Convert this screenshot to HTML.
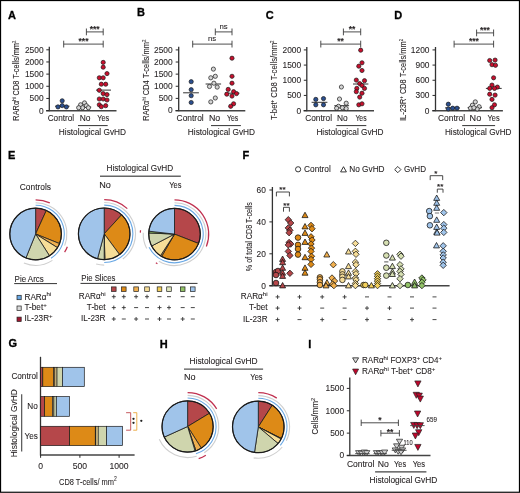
<!DOCTYPE html>
<html><head><meta charset="utf-8"><style>
html,body{margin:0;padding:0;background:#fff;}
svg{display:block;font-family:"Liberation Sans", sans-serif;will-change:transform;}
text{stroke:#231f20;stroke-width:0.08px;}
text.L{stroke:#000;stroke-width:0.3px;}
</style></head><body>
<svg width="520" height="493" viewBox="0 0 520 493">
<rect x="0.55" y="0.55" width="518.9" height="491.7" fill="#fff" stroke="#000" stroke-width="1.15"/>
<text x="7.9" y="18.9" font-size="11" text-anchor="start" font-weight="bold" fill="#000" class="L">A</text>
<line x1="49.3" y1="46.8" x2="49.3" y2="111.2" stroke="#333" stroke-width="1.3"/>
<line x1="46.099999999999994" y1="110.7" x2="116.5" y2="110.7" stroke="#444" stroke-width="1.5"/>
<line x1="46.3" y1="110.6" x2="49.3" y2="110.6" stroke="#2b2b2b" stroke-width="1.0"/>
<text x="43.6" y="113.5" font-size="8.4" text-anchor="end" font-weight="normal" fill="#231f20">0</text>
<line x1="46.3" y1="98.44" x2="49.3" y2="98.44" stroke="#2b2b2b" stroke-width="1.0"/>
<text x="43.6" y="101.34" font-size="8.4" text-anchor="end" font-weight="normal" fill="#231f20">500</text>
<line x1="46.3" y1="86.28" x2="49.3" y2="86.28" stroke="#2b2b2b" stroke-width="1.0"/>
<text x="43.6" y="89.18" font-size="8.4" text-anchor="end" font-weight="normal" fill="#231f20">1000</text>
<line x1="46.3" y1="74.11999999999999" x2="49.3" y2="74.11999999999999" stroke="#2b2b2b" stroke-width="1.0"/>
<text x="43.6" y="77.02" font-size="8.4" text-anchor="end" font-weight="normal" fill="#231f20">1500</text>
<line x1="46.3" y1="61.959999999999994" x2="49.3" y2="61.959999999999994" stroke="#2b2b2b" stroke-width="1.0"/>
<text x="43.6" y="64.86" font-size="8.4" text-anchor="end" font-weight="normal" fill="#231f20">2000</text>
<line x1="46.3" y1="49.8" x2="49.3" y2="49.8" stroke="#2b2b2b" stroke-width="1.0"/>
<text x="43.6" y="52.699999999999996" font-size="8.4" text-anchor="end" font-weight="normal" fill="#231f20">2500</text>
<text transform="translate(19.4,80.7) rotate(-90)" font-size="8.8" text-anchor="middle" font-weight="normal" fill="#231f20" textLength="80" lengthAdjust="spacingAndGlyphs">RARα<tspan font-size="5" dy="-3">hi</tspan><tspan dy="3"> CD8 T-cells/mm</tspan><tspan font-size="5" dy="-3">2</tspan></text>
<text x="47.7" y="120.7" font-size="8.2" text-anchor="start" font-weight="normal" fill="#231f20" textLength="26.5" lengthAdjust="spacingAndGlyphs">Control</text>
<text x="79.7" y="120.7" font-size="8.2" text-anchor="start" font-weight="normal" fill="#231f20" textLength="10.799999999999997" lengthAdjust="spacingAndGlyphs">No</text>
<text x="97.2" y="120.7" font-size="8.2" text-anchor="start" font-weight="normal" fill="#231f20" textLength="12.0" lengthAdjust="spacingAndGlyphs">Yes</text>
<line x1="78" y1="125.6" x2="107.7" y2="125.6" stroke="#333" stroke-width="1.0"/>
<text x="58.8" y="135" font-size="8.2" text-anchor="start" font-weight="normal" fill="#231f20" textLength="67.3" lengthAdjust="spacingAndGlyphs">Histological GvHD</text>
<line x1="86.4" y1="31.9" x2="103.2" y2="31.9" stroke="#3a3a3a" stroke-width="0.9"/>
<line x1="86.4" y1="28.5" x2="86.4" y2="35.3" stroke="#3a3a3a" stroke-width="0.9"/>
<line x1="103.2" y1="28.5" x2="103.2" y2="35.3" stroke="#3a3a3a" stroke-width="0.9"/>
<text x="94.7" y="32.1" font-size="8.5" text-anchor="middle" font-weight="bold" fill="#231f20">***</text>
<line x1="63.7" y1="44.1" x2="103.2" y2="44.1" stroke="#3a3a3a" stroke-width="0.9"/>
<line x1="63.7" y1="40.7" x2="63.7" y2="47.5" stroke="#3a3a3a" stroke-width="0.9"/>
<line x1="103.2" y1="40.7" x2="103.2" y2="47.5" stroke="#3a3a3a" stroke-width="0.9"/>
<text x="83.5" y="44.300000000000004" font-size="8.5" text-anchor="middle" font-weight="bold" fill="#231f20">***</text>
<line x1="55" y1="106.2" x2="69.5" y2="106.2" stroke="#333" stroke-width="1.0"/>
<line x1="76.8" y1="107.1" x2="91.2" y2="107.1" stroke="#333" stroke-width="1.0"/>
<line x1="96" y1="90.1" x2="111" y2="90.1" stroke="#333" stroke-width="1.0"/>
<circle cx="80.6" cy="104.8" r="2.1" fill="#d4d4d4" stroke="#1a1a1a" stroke-width="0.7"/>
<circle cx="84.5" cy="102.9" r="2.1" fill="#d4d4d4" stroke="#1a1a1a" stroke-width="0.7"/>
<circle cx="86.4" cy="105.7" r="2.1" fill="#d4d4d4" stroke="#1a1a1a" stroke-width="0.7"/>
<circle cx="82.6" cy="107.7" r="2.1" fill="#d4d4d4" stroke="#1a1a1a" stroke-width="0.7"/>
<circle cx="88.4" cy="107.7" r="2.1" fill="#d4d4d4" stroke="#1a1a1a" stroke-width="0.7"/>
<circle cx="78.7" cy="107.7" r="2.1" fill="#d4d4d4" stroke="#1a1a1a" stroke-width="0.7"/>
<circle cx="62.2" cy="100.8" r="2.1" fill="#2b4f8f" stroke="#1a1a1a" stroke-width="0.7"/>
<circle cx="62.2" cy="105.6" r="2.1" fill="#2b4f8f" stroke="#1a1a1a" stroke-width="0.7"/>
<circle cx="58.0" cy="106.9" r="2.1" fill="#2b4f8f" stroke="#1a1a1a" stroke-width="0.7"/>
<circle cx="66.4" cy="106.9" r="2.1" fill="#2b4f8f" stroke="#1a1a1a" stroke-width="0.7"/>
<circle cx="103.2" cy="62.4" r="2.1" fill="#c8102e" stroke="#1a1a1a" stroke-width="0.7"/>
<circle cx="103.2" cy="67.2" r="2.1" fill="#c8102e" stroke="#1a1a1a" stroke-width="0.7"/>
<circle cx="107.0" cy="73.6" r="2.1" fill="#c8102e" stroke="#1a1a1a" stroke-width="0.7"/>
<circle cx="99.3" cy="77.8" r="2.1" fill="#c8102e" stroke="#1a1a1a" stroke-width="0.7"/>
<circle cx="103.2" cy="77.8" r="2.1" fill="#c8102e" stroke="#1a1a1a" stroke-width="0.7"/>
<circle cx="101.3" cy="84.2" r="2.1" fill="#c8102e" stroke="#1a1a1a" stroke-width="0.7"/>
<circle cx="105.7" cy="84.2" r="2.1" fill="#c8102e" stroke="#1a1a1a" stroke-width="0.7"/>
<circle cx="99.3" cy="90.3" r="2.1" fill="#c8102e" stroke="#1a1a1a" stroke-width="0.7"/>
<circle cx="103.2" cy="93.6" r="2.1" fill="#c8102e" stroke="#1a1a1a" stroke-width="0.7"/>
<circle cx="107.0" cy="94.6" r="2.1" fill="#c8102e" stroke="#1a1a1a" stroke-width="0.7"/>
<circle cx="99.3" cy="99.0" r="2.1" fill="#c8102e" stroke="#1a1a1a" stroke-width="0.7"/>
<circle cx="103.2" cy="99.0" r="2.1" fill="#c8102e" stroke="#1a1a1a" stroke-width="0.7"/>
<circle cx="107.0" cy="100.0" r="2.1" fill="#c8102e" stroke="#1a1a1a" stroke-width="0.7"/>
<circle cx="99.3" cy="104.8" r="2.1" fill="#c8102e" stroke="#1a1a1a" stroke-width="0.7"/>
<circle cx="105.7" cy="105.7" r="2.1" fill="#c8102e" stroke="#1a1a1a" stroke-width="0.7"/>
<circle cx="101.3" cy="106.7" r="2.1" fill="#c8102e" stroke="#1a1a1a" stroke-width="0.7"/>
<text x="137.1" y="15.9" font-size="11" text-anchor="start" font-weight="bold" fill="#000" class="L">B</text>
<line x1="178.7" y1="46.8" x2="178.7" y2="111.2" stroke="#333" stroke-width="1.3"/>
<line x1="175.5" y1="110.7" x2="245.3" y2="110.7" stroke="#444" stroke-width="1.5"/>
<line x1="175.7" y1="110.5" x2="178.7" y2="110.5" stroke="#2b2b2b" stroke-width="1.0"/>
<text x="172.7" y="113.4" font-size="8.4" text-anchor="end" font-weight="normal" fill="#231f20">0</text>
<line x1="175.7" y1="98.38" x2="178.7" y2="98.38" stroke="#2b2b2b" stroke-width="1.0"/>
<text x="172.7" y="101.28" font-size="8.4" text-anchor="end" font-weight="normal" fill="#231f20">500</text>
<line x1="175.7" y1="86.26" x2="178.7" y2="86.26" stroke="#2b2b2b" stroke-width="1.0"/>
<text x="172.7" y="89.16000000000001" font-size="8.4" text-anchor="end" font-weight="normal" fill="#231f20">1000</text>
<line x1="175.7" y1="74.14" x2="178.7" y2="74.14" stroke="#2b2b2b" stroke-width="1.0"/>
<text x="172.7" y="77.04" font-size="8.4" text-anchor="end" font-weight="normal" fill="#231f20">1500</text>
<line x1="175.7" y1="62.02" x2="178.7" y2="62.02" stroke="#2b2b2b" stroke-width="1.0"/>
<text x="172.7" y="64.92" font-size="8.4" text-anchor="end" font-weight="normal" fill="#231f20">2000</text>
<line x1="175.7" y1="49.900000000000006" x2="178.7" y2="49.900000000000006" stroke="#2b2b2b" stroke-width="1.0"/>
<text x="172.7" y="52.800000000000004" font-size="8.4" text-anchor="end" font-weight="normal" fill="#231f20">2500</text>
<text transform="translate(148.5,80.25) rotate(-90)" font-size="8.8" text-anchor="middle" font-weight="normal" fill="#231f20" textLength="81" lengthAdjust="spacingAndGlyphs">RARα<tspan font-size="5" dy="-3">hi</tspan><tspan dy="3"> CD4 T-cells/mm</tspan><tspan font-size="5" dy="-3">2</tspan></text>
<text x="176.6" y="120.7" font-size="8.2" text-anchor="start" font-weight="normal" fill="#231f20" textLength="27.099999999999994" lengthAdjust="spacingAndGlyphs">Control</text>
<text x="208.9" y="120.7" font-size="8.2" text-anchor="start" font-weight="normal" fill="#231f20" textLength="11.299999999999983" lengthAdjust="spacingAndGlyphs">No</text>
<text x="227.1" y="120.7" font-size="8.2" text-anchor="start" font-weight="normal" fill="#231f20" textLength="11.200000000000017" lengthAdjust="spacingAndGlyphs">Yes</text>
<line x1="211" y1="125.6" x2="240.9" y2="125.6" stroke="#333" stroke-width="1.0"/>
<text x="187.8" y="135" font-size="8.2" text-anchor="start" font-weight="normal" fill="#231f20" textLength="67.29999999999998" lengthAdjust="spacingAndGlyphs">Histological GvHD</text>
<line x1="215.3" y1="31.9" x2="232" y2="31.9" stroke="#3a3a3a" stroke-width="0.9"/>
<line x1="215.3" y1="28.5" x2="215.3" y2="35.3" stroke="#3a3a3a" stroke-width="0.9"/>
<line x1="232" y1="28.5" x2="232" y2="35.3" stroke="#3a3a3a" stroke-width="0.9"/>
<text x="223.6" y="28.9" font-size="7.8" text-anchor="middle" font-weight="normal" fill="#231f20">ns</text>
<line x1="192.7" y1="44.1" x2="232" y2="44.1" stroke="#3a3a3a" stroke-width="0.9"/>
<line x1="192.7" y1="40.7" x2="192.7" y2="47.5" stroke="#3a3a3a" stroke-width="0.9"/>
<line x1="232" y1="40.7" x2="232" y2="47.5" stroke="#3a3a3a" stroke-width="0.9"/>
<text x="212" y="41.1" font-size="7.8" text-anchor="middle" font-weight="normal" fill="#231f20">ns</text>
<line x1="183.1" y1="92.8" x2="198.9" y2="92.8" stroke="#333" stroke-width="1.0"/>
<line x1="205.6" y1="84" x2="221.1" y2="84" stroke="#333" stroke-width="1.0"/>
<line x1="224.9" y1="93.2" x2="239.4" y2="93.2" stroke="#333" stroke-width="1.0"/>
<circle cx="191.2" cy="81.7" r="2.1" fill="#2b4f8f" stroke="#1a1a1a" stroke-width="0.7"/>
<circle cx="191.2" cy="89.7" r="2.1" fill="#2b4f8f" stroke="#1a1a1a" stroke-width="0.7"/>
<circle cx="191.2" cy="95.7" r="2.1" fill="#2b4f8f" stroke="#1a1a1a" stroke-width="0.7"/>
<circle cx="191.2" cy="102.5" r="2.1" fill="#2b4f8f" stroke="#1a1a1a" stroke-width="0.7"/>
<circle cx="213.4" cy="69.1" r="2.1" fill="#d4d4d4" stroke="#1a1a1a" stroke-width="0.7"/>
<circle cx="215.3" cy="76.3" r="2.1" fill="#d4d4d4" stroke="#1a1a1a" stroke-width="0.7"/>
<circle cx="210.8" cy="77.8" r="2.1" fill="#d4d4d4" stroke="#1a1a1a" stroke-width="0.7"/>
<circle cx="213.9" cy="83.2" r="2.1" fill="#d4d4d4" stroke="#1a1a1a" stroke-width="0.7"/>
<circle cx="209.5" cy="86.5" r="2.1" fill="#d4d4d4" stroke="#1a1a1a" stroke-width="0.7"/>
<circle cx="217.2" cy="87.1" r="2.1" fill="#d4d4d4" stroke="#1a1a1a" stroke-width="0.7"/>
<circle cx="215.3" cy="98.0" r="2.1" fill="#d4d4d4" stroke="#1a1a1a" stroke-width="0.7"/>
<circle cx="210.8" cy="101.9" r="2.1" fill="#d4d4d4" stroke="#1a1a1a" stroke-width="0.7"/>
<circle cx="232.0" cy="58.2" r="2.1" fill="#c8102e" stroke="#1a1a1a" stroke-width="0.7"/>
<circle cx="232.0" cy="76.3" r="2.1" fill="#c8102e" stroke="#1a1a1a" stroke-width="0.7"/>
<circle cx="232.0" cy="83.2" r="2.1" fill="#c8102e" stroke="#1a1a1a" stroke-width="0.7"/>
<circle cx="228.2" cy="89.4" r="2.1" fill="#c8102e" stroke="#1a1a1a" stroke-width="0.7"/>
<circle cx="233.6" cy="91.7" r="2.1" fill="#c8102e" stroke="#1a1a1a" stroke-width="0.7"/>
<circle cx="236.5" cy="93.6" r="2.1" fill="#c8102e" stroke="#1a1a1a" stroke-width="0.7"/>
<circle cx="226.8" cy="94.2" r="2.1" fill="#c8102e" stroke="#1a1a1a" stroke-width="0.7"/>
<circle cx="232.0" cy="96.1" r="2.1" fill="#c8102e" stroke="#1a1a1a" stroke-width="0.7"/>
<circle cx="233.6" cy="103.8" r="2.1" fill="#c8102e" stroke="#1a1a1a" stroke-width="0.7"/>
<circle cx="230.7" cy="106.3" r="2.1" fill="#c8102e" stroke="#1a1a1a" stroke-width="0.7"/>
<text x="265.7" y="18.5" font-size="11" text-anchor="start" font-weight="bold" fill="#000" class="L">C</text>
<line x1="306.8" y1="47" x2="306.8" y2="111.2" stroke="#333" stroke-width="1.3"/>
<line x1="303.6" y1="110.7" x2="374" y2="110.7" stroke="#444" stroke-width="1.5"/>
<line x1="303.8" y1="110.6" x2="306.8" y2="110.6" stroke="#2b2b2b" stroke-width="1.0"/>
<text x="301.2" y="113.5" font-size="8.4" text-anchor="end" font-weight="normal" fill="#231f20">0</text>
<line x1="303.8" y1="95.42999999999999" x2="306.8" y2="95.42999999999999" stroke="#2b2b2b" stroke-width="1.0"/>
<text x="301.2" y="98.33" font-size="8.4" text-anchor="end" font-weight="normal" fill="#231f20">500</text>
<line x1="303.8" y1="80.25999999999999" x2="306.8" y2="80.25999999999999" stroke="#2b2b2b" stroke-width="1.0"/>
<text x="301.2" y="83.16" font-size="8.4" text-anchor="end" font-weight="normal" fill="#231f20">1000</text>
<line x1="303.8" y1="65.09" x2="306.8" y2="65.09" stroke="#2b2b2b" stroke-width="1.0"/>
<text x="301.2" y="67.99000000000001" font-size="8.4" text-anchor="end" font-weight="normal" fill="#231f20">1500</text>
<line x1="303.8" y1="49.919999999999995" x2="306.8" y2="49.919999999999995" stroke="#2b2b2b" stroke-width="1.0"/>
<text x="301.2" y="52.81999999999999" font-size="8.4" text-anchor="end" font-weight="normal" fill="#231f20">2000</text>
<text transform="translate(276.8,80.25) rotate(-90)" font-size="8.8" text-anchor="middle" font-weight="normal" fill="#231f20" textLength="79.5" lengthAdjust="spacingAndGlyphs">T-bet<tspan font-size="5" dy="-3">+</tspan><tspan dy="3"> CD8 T-cells/mm</tspan><tspan font-size="5" dy="-3">2</tspan></text>
<text x="305.2" y="120.7" font-size="8.2" text-anchor="start" font-weight="normal" fill="#231f20" textLength="26.80000000000001" lengthAdjust="spacingAndGlyphs">Control</text>
<text x="336.9" y="120.7" font-size="8.2" text-anchor="start" font-weight="normal" fill="#231f20" textLength="10.700000000000045" lengthAdjust="spacingAndGlyphs">No</text>
<text x="355.4" y="120.7" font-size="8.2" text-anchor="start" font-weight="normal" fill="#231f20" textLength="11.200000000000045" lengthAdjust="spacingAndGlyphs">Yes</text>
<line x1="336.3" y1="125.6" x2="366.3" y2="125.6" stroke="#333" stroke-width="1.0"/>
<text x="316.4" y="135" font-size="8.2" text-anchor="start" font-weight="normal" fill="#231f20" textLength="67.20000000000005" lengthAdjust="spacingAndGlyphs">Histological GvHD</text>
<line x1="343.4" y1="31.9" x2="360.7" y2="31.9" stroke="#3a3a3a" stroke-width="0.9"/>
<line x1="343.4" y1="28.5" x2="343.4" y2="35.3" stroke="#3a3a3a" stroke-width="0.9"/>
<line x1="360.7" y1="28.5" x2="360.7" y2="35.3" stroke="#3a3a3a" stroke-width="0.9"/>
<text x="352" y="32.1" font-size="8.5" text-anchor="middle" font-weight="bold" fill="#231f20">**</text>
<line x1="320.8" y1="44.1" x2="360.7" y2="44.1" stroke="#3a3a3a" stroke-width="0.9"/>
<line x1="320.8" y1="40.7" x2="320.8" y2="47.5" stroke="#3a3a3a" stroke-width="0.9"/>
<line x1="360.7" y1="40.7" x2="360.7" y2="47.5" stroke="#3a3a3a" stroke-width="0.9"/>
<text x="340.5" y="44.300000000000004" font-size="8.5" text-anchor="middle" font-weight="bold" fill="#231f20">**</text>
<line x1="311.6" y1="102.3" x2="327.4" y2="102.3" stroke="#333" stroke-width="1.0"/>
<line x1="334.3" y1="105.7" x2="349.1" y2="105.7" stroke="#333" stroke-width="1.0"/>
<line x1="353" y1="84" x2="368.4" y2="84" stroke="#333" stroke-width="1.0"/>
<circle cx="315.8" cy="99.4" r="2.1" fill="#2b4f8f" stroke="#1a1a1a" stroke-width="0.7"/>
<circle cx="323.5" cy="98.6" r="2.1" fill="#2b4f8f" stroke="#1a1a1a" stroke-width="0.7"/>
<circle cx="315.8" cy="104.8" r="2.1" fill="#2b4f8f" stroke="#1a1a1a" stroke-width="0.7"/>
<circle cx="323.5" cy="104.8" r="2.1" fill="#2b4f8f" stroke="#1a1a1a" stroke-width="0.7"/>
<circle cx="341.4" cy="87.0" r="2.1" fill="#d4d4d4" stroke="#1a1a1a" stroke-width="0.7"/>
<circle cx="339.5" cy="99.0" r="2.1" fill="#d4d4d4" stroke="#1a1a1a" stroke-width="0.7"/>
<circle cx="346.2" cy="103.2" r="2.1" fill="#d4d4d4" stroke="#1a1a1a" stroke-width="0.7"/>
<circle cx="338.5" cy="106.3" r="2.1" fill="#d4d4d4" stroke="#1a1a1a" stroke-width="0.7"/>
<circle cx="342.4" cy="107.7" r="2.1" fill="#d4d4d4" stroke="#1a1a1a" stroke-width="0.7"/>
<circle cx="346.2" cy="108.6" r="2.1" fill="#d4d4d4" stroke="#1a1a1a" stroke-width="0.7"/>
<circle cx="336.6" cy="108.2" r="2.1" fill="#d4d4d4" stroke="#1a1a1a" stroke-width="0.7"/>
<circle cx="360.7" cy="50.2" r="2.1" fill="#c8102e" stroke="#1a1a1a" stroke-width="0.7"/>
<circle cx="362.0" cy="62.8" r="2.1" fill="#c8102e" stroke="#1a1a1a" stroke-width="0.7"/>
<circle cx="358.8" cy="66.2" r="2.1" fill="#c8102e" stroke="#1a1a1a" stroke-width="0.7"/>
<circle cx="362.0" cy="70.5" r="2.1" fill="#c8102e" stroke="#1a1a1a" stroke-width="0.7"/>
<circle cx="356.3" cy="80.1" r="2.1" fill="#c8102e" stroke="#1a1a1a" stroke-width="0.7"/>
<circle cx="364.5" cy="80.7" r="2.1" fill="#c8102e" stroke="#1a1a1a" stroke-width="0.7"/>
<circle cx="359.7" cy="83.6" r="2.1" fill="#c8102e" stroke="#1a1a1a" stroke-width="0.7"/>
<circle cx="362.0" cy="85.5" r="2.1" fill="#c8102e" stroke="#1a1a1a" stroke-width="0.7"/>
<circle cx="356.8" cy="88.4" r="2.1" fill="#c8102e" stroke="#1a1a1a" stroke-width="0.7"/>
<circle cx="364.5" cy="88.4" r="2.1" fill="#c8102e" stroke="#1a1a1a" stroke-width="0.7"/>
<circle cx="356.3" cy="91.7" r="2.1" fill="#c8102e" stroke="#1a1a1a" stroke-width="0.7"/>
<circle cx="362.0" cy="93.2" r="2.1" fill="#c8102e" stroke="#1a1a1a" stroke-width="0.7"/>
<circle cx="359.7" cy="97.1" r="2.1" fill="#c8102e" stroke="#1a1a1a" stroke-width="0.7"/>
<circle cx="358.8" cy="104.8" r="2.1" fill="#c8102e" stroke="#1a1a1a" stroke-width="0.7"/>
<circle cx="362.0" cy="103.8" r="2.1" fill="#c8102e" stroke="#1a1a1a" stroke-width="0.7"/>
<text x="394.3" y="19.2" font-size="11" text-anchor="start" font-weight="bold" fill="#000" class="L">D</text>
<line x1="435.5" y1="47" x2="435.5" y2="111.2" stroke="#333" stroke-width="1.3"/>
<line x1="432.3" y1="110.7" x2="502.9" y2="110.7" stroke="#444" stroke-width="1.5"/>
<line x1="432.5" y1="110.6" x2="435.5" y2="110.6" stroke="#2b2b2b" stroke-width="1.0"/>
<text x="429.5" y="113.5" font-size="8.4" text-anchor="end" font-weight="normal" fill="#231f20">0</text>
<line x1="432.5" y1="95.42999999999999" x2="435.5" y2="95.42999999999999" stroke="#2b2b2b" stroke-width="1.0"/>
<text x="429.5" y="98.33" font-size="8.4" text-anchor="end" font-weight="normal" fill="#231f20">300</text>
<line x1="432.5" y1="80.25999999999999" x2="435.5" y2="80.25999999999999" stroke="#2b2b2b" stroke-width="1.0"/>
<text x="429.5" y="83.16" font-size="8.4" text-anchor="end" font-weight="normal" fill="#231f20">600</text>
<line x1="432.5" y1="65.09" x2="435.5" y2="65.09" stroke="#2b2b2b" stroke-width="1.0"/>
<text x="429.5" y="67.99000000000001" font-size="8.4" text-anchor="end" font-weight="normal" fill="#231f20">900</text>
<line x1="432.5" y1="49.919999999999995" x2="435.5" y2="49.919999999999995" stroke="#2b2b2b" stroke-width="1.0"/>
<text x="429.5" y="52.81999999999999" font-size="8.4" text-anchor="end" font-weight="normal" fill="#231f20">1200</text>
<text transform="translate(405.6,80) rotate(-90)" font-size="8.8" text-anchor="middle" font-weight="normal" fill="#231f20" textLength="82" lengthAdjust="spacingAndGlyphs">IL-23R<tspan font-size="5" dy="-3">+</tspan><tspan dy="3"> CD8 T-cells/mm</tspan><tspan font-size="5" dy="-3">2</tspan></text>
<text x="438" y="120.7" font-size="8.2" text-anchor="start" font-weight="normal" fill="#231f20" textLength="27.100000000000023" lengthAdjust="spacingAndGlyphs">Control</text>
<text x="469.6" y="120.7" font-size="8.2" text-anchor="start" font-weight="normal" fill="#231f20" textLength="11.599999999999966" lengthAdjust="spacingAndGlyphs">No</text>
<text x="487.6" y="120.7" font-size="8.2" text-anchor="start" font-weight="normal" fill="#231f20" textLength="12.099999999999966" lengthAdjust="spacingAndGlyphs">Yes</text>
<line x1="462.2" y1="125.6" x2="495.1" y2="125.6" stroke="#333" stroke-width="1.0"/>
<text x="444.9" y="135" font-size="8.2" text-anchor="start" font-weight="normal" fill="#231f20" textLength="66.60000000000002" lengthAdjust="spacingAndGlyphs">Histological GvHD</text>
<line x1="476.6" y1="32.9" x2="493.6" y2="32.9" stroke="#3a3a3a" stroke-width="0.9"/>
<line x1="476.6" y1="29.5" x2="476.6" y2="36.3" stroke="#3a3a3a" stroke-width="0.9"/>
<line x1="493.6" y1="29.5" x2="493.6" y2="36.3" stroke="#3a3a3a" stroke-width="0.9"/>
<text x="484.9" y="33.1" font-size="8.5" text-anchor="middle" font-weight="bold" fill="#231f20">***</text>
<line x1="454.1" y1="44.1" x2="493.6" y2="44.1" stroke="#3a3a3a" stroke-width="0.9"/>
<line x1="454.1" y1="40.7" x2="454.1" y2="47.5" stroke="#3a3a3a" stroke-width="0.9"/>
<line x1="493.6" y1="40.7" x2="493.6" y2="47.5" stroke="#3a3a3a" stroke-width="0.9"/>
<text x="473.9" y="44.300000000000004" font-size="8.5" text-anchor="middle" font-weight="bold" fill="#231f20">***</text>
<line x1="445" y1="107.9" x2="459.9" y2="107.9" stroke="#333" stroke-width="1.0"/>
<line x1="467.6" y1="107.7" x2="482" y2="107.7" stroke="#333" stroke-width="1.0"/>
<line x1="485.9" y1="88.4" x2="501.7" y2="88.4" stroke="#333" stroke-width="1.0"/>
<circle cx="448.3" cy="104.2" r="2.1" fill="#2b4f8f" stroke="#1a1a1a" stroke-width="0.7"/>
<circle cx="448.3" cy="109.0" r="2.1" fill="#2b4f8f" stroke="#1a1a1a" stroke-width="0.7"/>
<circle cx="452.7" cy="108.2" r="2.1" fill="#2b4f8f" stroke="#1a1a1a" stroke-width="0.7"/>
<circle cx="457.0" cy="108.2" r="2.1" fill="#2b4f8f" stroke="#1a1a1a" stroke-width="0.7"/>
<circle cx="475.3" cy="101.9" r="2.1" fill="#d4d4d4" stroke="#1a1a1a" stroke-width="0.7"/>
<circle cx="472.4" cy="105.2" r="2.1" fill="#d4d4d4" stroke="#1a1a1a" stroke-width="0.7"/>
<circle cx="479.1" cy="106.7" r="2.1" fill="#d4d4d4" stroke="#1a1a1a" stroke-width="0.7"/>
<circle cx="470.5" cy="108.2" r="2.1" fill="#d4d4d4" stroke="#1a1a1a" stroke-width="0.7"/>
<circle cx="477.2" cy="109.0" r="2.1" fill="#d4d4d4" stroke="#1a1a1a" stroke-width="0.7"/>
<circle cx="473.9" cy="107.7" r="2.1" fill="#d4d4d4" stroke="#1a1a1a" stroke-width="0.7"/>
<circle cx="489.7" cy="60.5" r="2.1" fill="#c8102e" stroke="#1a1a1a" stroke-width="0.7"/>
<circle cx="495.1" cy="60.1" r="2.1" fill="#c8102e" stroke="#1a1a1a" stroke-width="0.7"/>
<circle cx="492.0" cy="64.7" r="2.1" fill="#c8102e" stroke="#1a1a1a" stroke-width="0.7"/>
<circle cx="495.5" cy="65.3" r="2.1" fill="#c8102e" stroke="#1a1a1a" stroke-width="0.7"/>
<circle cx="493.6" cy="77.8" r="2.1" fill="#c8102e" stroke="#1a1a1a" stroke-width="0.7"/>
<circle cx="492.0" cy="85.1" r="2.1" fill="#c8102e" stroke="#1a1a1a" stroke-width="0.7"/>
<circle cx="497.4" cy="87.1" r="2.1" fill="#c8102e" stroke="#1a1a1a" stroke-width="0.7"/>
<circle cx="489.7" cy="88.4" r="2.1" fill="#c8102e" stroke="#1a1a1a" stroke-width="0.7"/>
<circle cx="494.5" cy="88.4" r="2.1" fill="#c8102e" stroke="#1a1a1a" stroke-width="0.7"/>
<circle cx="495.1" cy="95.1" r="2.1" fill="#c8102e" stroke="#1a1a1a" stroke-width="0.7"/>
<circle cx="489.7" cy="94.2" r="2.1" fill="#c8102e" stroke="#1a1a1a" stroke-width="0.7"/>
<circle cx="492.0" cy="99.4" r="2.1" fill="#c8102e" stroke="#1a1a1a" stroke-width="0.7"/>
<circle cx="494.5" cy="104.8" r="2.1" fill="#c8102e" stroke="#1a1a1a" stroke-width="0.7"/>
<circle cx="492.0" cy="107.7" r="2.1" fill="#c8102e" stroke="#1a1a1a" stroke-width="0.7"/>
<text x="8.1" y="158.5" font-size="11" text-anchor="start" font-weight="bold" fill="#000" class="L">E</text>
<text x="19.8" y="189.6" font-size="8.2" text-anchor="start" font-weight="normal" fill="#231f20" textLength="31.2" lengthAdjust="spacingAndGlyphs">Controls</text>
<text x="106.5" y="171.3" font-size="8.2" text-anchor="start" font-weight="normal" fill="#231f20" textLength="66.6" lengthAdjust="spacingAndGlyphs">Histological GvHD</text>
<line x1="100" y1="176.3" x2="180.8" y2="176.3" stroke="#666" stroke-width="1.4"/>
<text x="99.2" y="188" font-size="8.2" text-anchor="start" font-weight="normal" fill="#231f20" textLength="11.6" lengthAdjust="spacingAndGlyphs">No</text>
<text x="169.2" y="188" font-size="8.2" text-anchor="start" font-weight="normal" fill="#231f20" textLength="12.3" lengthAdjust="spacingAndGlyphs">Yes</text>
<path d="M35.60,234.00 L35.60,208.20 A25.8,25.8 0 0 1 46.30,210.52 Z" fill="#b5474a" stroke="#1a1a1a" stroke-width="0.8" stroke-linejoin="round"/>
<path d="M35.60,234.00 L46.30,210.52 A25.8,25.8 0 0 1 59.55,243.58 Z" fill="#dd8a17" stroke="#1a1a1a" stroke-width="0.8" stroke-linejoin="round"/>
<path d="M35.60,234.00 L59.55,243.58 A25.8,25.8 0 0 1 57.48,247.67 Z" fill="#f0b050" stroke="#1a1a1a" stroke-width="0.8" stroke-linejoin="round"/>
<path d="M35.60,234.00 L57.48,247.67 A25.8,25.8 0 0 1 49.46,255.76 Z" fill="#f6dd98" stroke="#1a1a1a" stroke-width="0.8" stroke-linejoin="round"/>
<path d="M35.60,234.00 L49.46,255.76 A25.8,25.8 0 0 1 25.94,257.92 Z" fill="#cfd5ad" stroke="#1a1a1a" stroke-width="0.8" stroke-linejoin="round"/>
<path d="M35.60,234.00 L25.94,257.92 A25.8,25.8 0 0 1 35.60,208.20 Z" fill="#a0c4ea" stroke="#1a1a1a" stroke-width="0.8" stroke-linejoin="round"/>
<circle cx="35.6" cy="234.0" r="25.8" fill="none" stroke="#1a1a1a" stroke-width="1.2"/>
<path d="M35.60,205.30 A28.7,28.7 0 0 1 51.02,258.21" fill="none" stroke="#6aa8e4" stroke-width="1.1"/>
<path d="M35.60,202.70 A31.3,31.3 0 0 1 64.66,245.62" fill="none" stroke="#cfcfcf" stroke-width="1.1"/>
<path d="M52.42,260.40 A31.3,31.3 0 0 1 23.87,263.02" fill="none" stroke="#cfcfcf" stroke-width="1.1"/>
<path d="M35.60,199.80 A34.2,34.2 0 0 1 49.78,202.88" fill="none" stroke="#c0304f" stroke-width="1.25"/>
<path d="M67.35,246.70 A34.2,34.2 0 0 1 64.60,252.12" fill="none" stroke="#c0304f" stroke-width="1.25"/>
<path d="M104.20,233.80 L104.20,208.00 A25.8,25.8 0 0 1 121.63,214.78 Z" fill="#b5474a" stroke="#1a1a1a" stroke-width="0.8" stroke-linejoin="round"/>
<path d="M104.20,233.80 L121.63,214.78 A25.8,25.8 0 0 1 119.55,254.54 Z" fill="#dd8a17" stroke="#1a1a1a" stroke-width="0.8" stroke-linejoin="round"/>
<path d="M104.20,233.80 L119.55,254.54 A25.8,25.8 0 0 1 104.88,259.59 Z" fill="#f6dd98" stroke="#1a1a1a" stroke-width="0.8" stroke-linejoin="round"/>
<path d="M104.20,233.80 L104.88,259.59 A25.8,25.8 0 0 1 104.20,259.60 Z" fill="#f6dd98" stroke="#1a1a1a" stroke-width="0.8" stroke-linejoin="round"/>
<path d="M104.20,233.80 L104.20,259.60 A25.8,25.8 0 0 1 97.52,258.72 Z" fill="#cfd5ad" stroke="#1a1a1a" stroke-width="0.8" stroke-linejoin="round"/>
<path d="M104.20,233.80 L97.52,258.72 A25.8,25.8 0 0 1 104.20,208.00 Z" fill="#a0c4ea" stroke="#1a1a1a" stroke-width="0.8" stroke-linejoin="round"/>
<circle cx="104.2" cy="233.8" r="25.8" fill="none" stroke="#1a1a1a" stroke-width="1.2"/>
<path d="M104.20,205.10 A28.7,28.7 0 0 1 104.20,262.50" fill="none" stroke="#6aa8e4" stroke-width="1.1"/>
<path d="M104.20,202.50 A31.3,31.3 0 0 1 122.82,258.96" fill="none" stroke="#cfcfcf" stroke-width="1.1"/>
<path d="M104.20,265.10 A31.3,31.3 0 0 1 96.10,264.03" fill="none" stroke="#cfcfcf" stroke-width="1.1"/>
<path d="M104.20,199.60 A34.2,34.2 0 0 1 127.31,208.59" fill="none" stroke="#c0304f" stroke-width="1.25"/>
<path d="M174.50,234.10 L174.50,208.30 A25.8,25.8 0 0 1 198.54,243.47 Z" fill="#b5474a" stroke="#1a1a1a" stroke-width="0.8" stroke-linejoin="round"/>
<path d="M174.50,234.10 L198.54,243.47 A25.8,25.8 0 0 1 161.60,256.44 Z" fill="#dd8a17" stroke="#1a1a1a" stroke-width="0.8" stroke-linejoin="round"/>
<path d="M174.50,234.10 L161.60,256.44 A25.8,25.8 0 0 1 160.45,255.74 Z" fill="#f0b050" stroke="#1a1a1a" stroke-width="0.8" stroke-linejoin="round"/>
<path d="M174.50,234.10 L160.45,255.74 A25.8,25.8 0 0 1 151.62,246.01 Z" fill="#f6dd98" stroke="#1a1a1a" stroke-width="0.8" stroke-linejoin="round"/>
<path d="M174.50,234.10 L151.62,246.01 A25.8,25.8 0 0 1 148.72,232.97 Z" fill="#cfd5ad" stroke="#1a1a1a" stroke-width="0.8" stroke-linejoin="round"/>
<path d="M174.50,234.10 L148.72,232.97 A25.8,25.8 0 0 1 148.87,231.18 Z" fill="#92c268" stroke="#1a1a1a" stroke-width="0.8" stroke-linejoin="round"/>
<path d="M174.50,234.10 L148.87,231.18 A25.8,25.8 0 0 1 174.50,208.30 Z" fill="#a0c4ea" stroke="#1a1a1a" stroke-width="0.8" stroke-linejoin="round"/>
<circle cx="174.5" cy="234.1" r="25.8" fill="none" stroke="#1a1a1a" stroke-width="1.2"/>
<path d="M174.50,205.40 A28.7,28.7 0 1 1 149.04,247.35" fill="none" stroke="#6aa8e4" stroke-width="1.1"/>
<path d="M174.50,202.80 A31.3,31.3 0 1 1 158.85,261.21" fill="none" stroke="#cfcfcf" stroke-width="1.1"/>
<path d="M146.74,248.55 A31.3,31.3 0 0 1 143.23,232.73" fill="none" stroke="#cfcfcf" stroke-width="1.1"/>
<path d="M174.50,199.90 A34.2,34.2 0 0 1 206.36,246.52" fill="none" stroke="#c0304f" stroke-width="1.25"/>
<path d="M157.40,263.72 A34.2,34.2 0 0 1 155.87,262.78" fill="none" stroke="#c0304f" stroke-width="1.25"/>
<path d="M140.33,232.61 A34.2,34.2 0 0 1 140.52,230.23" fill="none" stroke="#c0304f" stroke-width="1.25"/>
<text x="14.6" y="281.5" font-size="8.2" text-anchor="start" font-weight="normal" fill="#231f20" textLength="29.2" lengthAdjust="spacingAndGlyphs">Pie Arcs</text>
<line x1="14.2" y1="283.6" x2="57" y2="283.6" stroke="#333" stroke-width="1.0"/>
<rect x="17" y="295.3" width="4.2" height="4.4" fill="#6aa8e4" stroke="#222" stroke-width="0.7"/>
<rect x="17" y="306.0" width="4.2" height="4.4" fill="#d8d8d8" stroke="#222" stroke-width="0.7"/>
<rect x="17" y="317.1" width="4.2" height="4.4" fill="#a01830" stroke="#222" stroke-width="0.7"/>
<text x="24.5" y="299.5" font-size="8.2" text-anchor="start" font-weight="normal" fill="#231f20">RARα<tspan font-size="6.1" dy="-3.4">hi</tspan></text>
<text x="24.5" y="310.2" font-size="8.2" text-anchor="start" font-weight="normal" fill="#231f20">T-bet<tspan font-size="6.1" dy="-3.4">+</tspan></text>
<text x="24.5" y="321.3" font-size="8.2" text-anchor="start" font-weight="normal" fill="#231f20">IL-23R<tspan font-size="6.1" dy="-3.4">+</tspan></text>
<text x="81.2" y="280.5" font-size="8.2" text-anchor="start" font-weight="normal" fill="#231f20" textLength="34.3" lengthAdjust="spacingAndGlyphs">Pie Slices</text>
<line x1="80.5" y1="283.4" x2="197.5" y2="283.4" stroke="#333" stroke-width="1.0"/>
<rect x="111.5" y="286.9" width="4.6" height="4.6" fill="#b5474a" stroke="#222" stroke-width="0.7"/>
<rect x="121.5" y="286.9" width="4.6" height="4.6" fill="#dd8a17" stroke="#222" stroke-width="0.7"/>
<rect x="133.79999999999998" y="286.9" width="4.6" height="4.6" fill="#f0b050" stroke="#222" stroke-width="0.7"/>
<rect x="144.7" y="286.9" width="4.6" height="4.6" fill="#f6dd98" stroke="#222" stroke-width="0.7"/>
<rect x="157.2" y="286.9" width="4.6" height="4.6" fill="#f2cf5a" stroke="#222" stroke-width="0.7"/>
<rect x="166.7" y="286.9" width="4.6" height="4.6" fill="#dfe6bd" stroke="#222" stroke-width="0.7"/>
<rect x="180.39999999999998" y="286.9" width="4.6" height="4.6" fill="#92c268" stroke="#222" stroke-width="0.7"/>
<rect x="190.5" y="286.9" width="4.6" height="4.6" fill="#a0c4ea" stroke="#222" stroke-width="0.7"/>
<text x="105.5" y="299.3" font-size="8.2" text-anchor="end" font-weight="normal" fill="#231f20">RARα<tspan font-size="6.1" dy="-3.4">hi</tspan></text>
<text x="105.5" y="310" font-size="8.2" text-anchor="end" font-weight="normal" fill="#231f20">T-bet</text>
<text x="105.5" y="321.2" font-size="8.2" text-anchor="end" font-weight="normal" fill="#231f20">IL-23R</text>
<line x1="111.8" y1="296.7" x2="115.8" y2="296.7" stroke="#333" stroke-width="0.9"/>
<line x1="113.8" y1="294.7" x2="113.8" y2="298.7" stroke="#333" stroke-width="0.9"/>
<line x1="121.8" y1="296.7" x2="125.8" y2="296.7" stroke="#333" stroke-width="0.9"/>
<line x1="123.8" y1="294.7" x2="123.8" y2="298.7" stroke="#333" stroke-width="0.9"/>
<line x1="134.1" y1="296.7" x2="138.1" y2="296.7" stroke="#333" stroke-width="0.9"/>
<line x1="136.1" y1="294.7" x2="136.1" y2="298.7" stroke="#333" stroke-width="0.9"/>
<line x1="145" y1="296.7" x2="149" y2="296.7" stroke="#333" stroke-width="0.9"/>
<line x1="147" y1="294.7" x2="147" y2="298.7" stroke="#333" stroke-width="0.9"/>
<line x1="157.5" y1="296.7" x2="161.5" y2="296.7" stroke="#333" stroke-width="0.9"/>
<line x1="167" y1="296.7" x2="171" y2="296.7" stroke="#333" stroke-width="0.9"/>
<line x1="180.7" y1="296.7" x2="184.7" y2="296.7" stroke="#333" stroke-width="0.9"/>
<line x1="190.8" y1="296.7" x2="194.8" y2="296.7" stroke="#333" stroke-width="0.9"/>
<line x1="111.8" y1="307.6" x2="115.8" y2="307.6" stroke="#333" stroke-width="0.9"/>
<line x1="113.8" y1="305.6" x2="113.8" y2="309.6" stroke="#333" stroke-width="0.9"/>
<line x1="121.8" y1="307.6" x2="125.8" y2="307.6" stroke="#333" stroke-width="0.9"/>
<line x1="123.8" y1="305.6" x2="123.8" y2="309.6" stroke="#333" stroke-width="0.9"/>
<line x1="134.1" y1="307.6" x2="138.1" y2="307.6" stroke="#333" stroke-width="0.9"/>
<line x1="145" y1="307.6" x2="149" y2="307.6" stroke="#333" stroke-width="0.9"/>
<line x1="157.5" y1="307.6" x2="161.5" y2="307.6" stroke="#333" stroke-width="0.9"/>
<line x1="159.5" y1="305.6" x2="159.5" y2="309.6" stroke="#333" stroke-width="0.9"/>
<line x1="167" y1="307.6" x2="171" y2="307.6" stroke="#333" stroke-width="0.9"/>
<line x1="169" y1="305.6" x2="169" y2="309.6" stroke="#333" stroke-width="0.9"/>
<line x1="180.7" y1="307.6" x2="184.7" y2="307.6" stroke="#333" stroke-width="0.9"/>
<line x1="190.8" y1="307.6" x2="194.8" y2="307.6" stroke="#333" stroke-width="0.9"/>
<line x1="111.8" y1="319" x2="115.8" y2="319" stroke="#333" stroke-width="0.9"/>
<line x1="113.8" y1="317" x2="113.8" y2="321" stroke="#333" stroke-width="0.9"/>
<line x1="121.8" y1="319" x2="125.8" y2="319" stroke="#333" stroke-width="0.9"/>
<line x1="134.1" y1="319" x2="138.1" y2="319" stroke="#333" stroke-width="0.9"/>
<line x1="136.1" y1="317" x2="136.1" y2="321" stroke="#333" stroke-width="0.9"/>
<line x1="145" y1="319" x2="149" y2="319" stroke="#333" stroke-width="0.9"/>
<line x1="157.5" y1="319" x2="161.5" y2="319" stroke="#333" stroke-width="0.9"/>
<line x1="159.5" y1="317" x2="159.5" y2="321" stroke="#333" stroke-width="0.9"/>
<line x1="167" y1="319" x2="171" y2="319" stroke="#333" stroke-width="0.9"/>
<line x1="180.7" y1="319" x2="184.7" y2="319" stroke="#333" stroke-width="0.9"/>
<line x1="182.7" y1="317" x2="182.7" y2="321" stroke="#333" stroke-width="0.9"/>
<line x1="190.8" y1="319" x2="194.8" y2="319" stroke="#333" stroke-width="0.9"/>
<text x="242.5" y="158.75" font-size="11" text-anchor="start" font-weight="bold" fill="#000" class="L">F</text>
<line x1="272.4" y1="187" x2="272.4" y2="286.2" stroke="#333" stroke-width="1.3"/>
<line x1="269.4" y1="285.7" x2="449.6" y2="285.7" stroke="#444" stroke-width="1.5"/>
<line x1="269.4" y1="285.7" x2="272.4" y2="285.7" stroke="#2b2b2b" stroke-width="1.0"/>
<text x="265.8" y="288.59999999999997" font-size="8.4" text-anchor="end" font-weight="normal" fill="#231f20">0</text>
<line x1="269.4" y1="253.79999999999998" x2="272.4" y2="253.79999999999998" stroke="#2b2b2b" stroke-width="1.0"/>
<text x="265.8" y="256.7" font-size="8.4" text-anchor="end" font-weight="normal" fill="#231f20">20</text>
<line x1="269.4" y1="221.89999999999998" x2="272.4" y2="221.89999999999998" stroke="#2b2b2b" stroke-width="1.0"/>
<text x="265.8" y="224.79999999999998" font-size="8.4" text-anchor="end" font-weight="normal" fill="#231f20">40</text>
<line x1="269.4" y1="190.0" x2="272.4" y2="190.0" stroke="#2b2b2b" stroke-width="1.0"/>
<text x="265.8" y="192.9" font-size="8.4" text-anchor="end" font-weight="normal" fill="#231f20">60</text>
<text transform="translate(252,236.7) rotate(-90)" font-size="9" text-anchor="middle" font-weight="normal" fill="#231f20" textLength="69" lengthAdjust="spacingAndGlyphs">% of total CD8 T-cells</text>
<circle cx="298.1" cy="169.3" r="2.6" fill="#fff" stroke="#222" stroke-width="0.9"/>
<text x="304" y="172.2" font-size="8.6" text-anchor="start" font-weight="normal" fill="#231f20" textLength="26.8" lengthAdjust="spacingAndGlyphs">Control</text>
<polygon points="340.60,171.91 346.40,171.91 343.50,166.69" fill="#fff" stroke="#222" stroke-width="0.9" stroke-linejoin="miter"/>
<text x="349.2" y="172.2" font-size="8.6" text-anchor="start" font-weight="normal" fill="#231f20" textLength="35.4" lengthAdjust="spacingAndGlyphs">No GvHD</text>
<polygon points="397.80,166.50 400.90,169.60 397.80,172.70 394.70,169.60" fill="#fff" stroke="#222" stroke-width="0.9"/>
<text x="404" y="172.2" font-size="8.6" text-anchor="start" font-weight="normal" fill="#231f20" textLength="22" lengthAdjust="spacingAndGlyphs">GvHD</text>
<text x="267.6" y="299.4" font-size="8.2" text-anchor="end" font-weight="normal" fill="#231f20">RARα<tspan font-size="6.1" dy="-3.4">hi</tspan></text>
<text x="267.6" y="310.4" font-size="8.2" text-anchor="end" font-weight="normal" fill="#231f20">T-bet</text>
<text x="267.6" y="321.5" font-size="8.2" text-anchor="end" font-weight="normal" fill="#231f20">IL-23R</text>
<line x1="275.6" y1="296.9" x2="279.6" y2="296.9" stroke="#333" stroke-width="0.9"/>
<line x1="277.6" y1="294.9" x2="277.6" y2="298.9" stroke="#333" stroke-width="0.9"/>
<line x1="297.5" y1="296.9" x2="301.5" y2="296.9" stroke="#333" stroke-width="0.9"/>
<line x1="299.5" y1="294.9" x2="299.5" y2="298.9" stroke="#333" stroke-width="0.9"/>
<line x1="320.2" y1="296.9" x2="324.2" y2="296.9" stroke="#333" stroke-width="0.9"/>
<line x1="322.2" y1="294.9" x2="322.2" y2="298.9" stroke="#333" stroke-width="0.9"/>
<line x1="342.6" y1="296.9" x2="346.6" y2="296.9" stroke="#333" stroke-width="0.9"/>
<line x1="344.6" y1="294.9" x2="344.6" y2="298.9" stroke="#333" stroke-width="0.9"/>
<line x1="365" y1="296.9" x2="369" y2="296.9" stroke="#333" stroke-width="0.9"/>
<line x1="387.5" y1="296.9" x2="391.5" y2="296.9" stroke="#333" stroke-width="0.9"/>
<line x1="410" y1="296.9" x2="414" y2="296.9" stroke="#333" stroke-width="0.9"/>
<line x1="432.5" y1="296.9" x2="436.5" y2="296.9" stroke="#333" stroke-width="0.9"/>
<line x1="275.6" y1="308.1" x2="279.6" y2="308.1" stroke="#333" stroke-width="0.9"/>
<line x1="277.6" y1="306.1" x2="277.6" y2="310.1" stroke="#333" stroke-width="0.9"/>
<line x1="297.5" y1="308.1" x2="301.5" y2="308.1" stroke="#333" stroke-width="0.9"/>
<line x1="299.5" y1="306.1" x2="299.5" y2="310.1" stroke="#333" stroke-width="0.9"/>
<line x1="320.2" y1="308.1" x2="324.2" y2="308.1" stroke="#333" stroke-width="0.9"/>
<line x1="342.6" y1="308.1" x2="346.6" y2="308.1" stroke="#333" stroke-width="0.9"/>
<line x1="365" y1="308.1" x2="369" y2="308.1" stroke="#333" stroke-width="0.9"/>
<line x1="367" y1="306.1" x2="367" y2="310.1" stroke="#333" stroke-width="0.9"/>
<line x1="387.5" y1="308.1" x2="391.5" y2="308.1" stroke="#333" stroke-width="0.9"/>
<line x1="389.5" y1="306.1" x2="389.5" y2="310.1" stroke="#333" stroke-width="0.9"/>
<line x1="410" y1="308.1" x2="414" y2="308.1" stroke="#333" stroke-width="0.9"/>
<line x1="432.5" y1="308.1" x2="436.5" y2="308.1" stroke="#333" stroke-width="0.9"/>
<line x1="275.6" y1="319.6" x2="279.6" y2="319.6" stroke="#333" stroke-width="0.9"/>
<line x1="277.6" y1="317.6" x2="277.6" y2="321.6" stroke="#333" stroke-width="0.9"/>
<line x1="297.5" y1="319.6" x2="301.5" y2="319.6" stroke="#333" stroke-width="0.9"/>
<line x1="320.2" y1="319.6" x2="324.2" y2="319.6" stroke="#333" stroke-width="0.9"/>
<line x1="322.2" y1="317.6" x2="322.2" y2="321.6" stroke="#333" stroke-width="0.9"/>
<line x1="342.6" y1="319.6" x2="346.6" y2="319.6" stroke="#333" stroke-width="0.9"/>
<line x1="365" y1="319.6" x2="369" y2="319.6" stroke="#333" stroke-width="0.9"/>
<line x1="367" y1="317.6" x2="367" y2="321.6" stroke="#333" stroke-width="0.9"/>
<line x1="387.5" y1="319.6" x2="391.5" y2="319.6" stroke="#333" stroke-width="0.9"/>
<line x1="410" y1="319.6" x2="414" y2="319.6" stroke="#333" stroke-width="0.9"/>
<line x1="412" y1="317.6" x2="412" y2="321.6" stroke="#333" stroke-width="0.9"/>
<line x1="432.5" y1="319.6" x2="436.5" y2="319.6" stroke="#333" stroke-width="0.9"/>
<path d="M276.4,196.4 V192 H289.4 V196.4" fill="none" stroke="#333" stroke-width="0.9"/>
<text x="282.4" y="192.2" font-size="8" text-anchor="middle" font-weight="bold" fill="#231f20">**</text>
<path d="M283.5,211.70000000000002 V207.3 H289.4 V211.70000000000002" fill="none" stroke="#333" stroke-width="0.9"/>
<text x="286.4" y="207.8" font-size="8" text-anchor="middle" font-weight="bold" fill="#231f20">**</text>
<path d="M430.2,180.1 V175.7 H442.7 V180.1" fill="none" stroke="#333" stroke-width="0.9"/>
<text x="435.9" y="175.8" font-size="8" text-anchor="middle" font-weight="bold" fill="#231f20">*</text>
<path d="M437.3,192.7 V189.1 H443 V192.7" fill="none" stroke="#333" stroke-width="0.9"/>
<text x="440.2" y="188.6" font-size="8" text-anchor="middle" font-weight="bold" fill="#231f20">**</text>
<circle cx="276.0" cy="272.0" r="2.8" fill="#b5474a" stroke="#111" stroke-width="0.75"/>
<circle cx="278.0" cy="271.0" r="2.8" fill="#b5474a" stroke="#111" stroke-width="0.75"/>
<circle cx="276.0" cy="275.0" r="2.8" fill="#b5474a" stroke="#111" stroke-width="0.75"/>
<circle cx="276.0" cy="283.0" r="2.8" fill="#b5474a" stroke="#111" stroke-width="0.75"/>
<polygon points="279.60,261.40 285.60,261.40 282.60,256.00" fill="#b5474a" stroke="#111" stroke-width="0.75" stroke-linejoin="miter"/>
<polygon points="279.60,264.70 285.60,264.70 282.60,259.30" fill="#b5474a" stroke="#111" stroke-width="0.75" stroke-linejoin="miter"/>
<polygon points="279.60,270.30 285.60,270.30 282.60,264.90" fill="#b5474a" stroke="#111" stroke-width="0.75" stroke-linejoin="miter"/>
<polygon points="279.60,275.20 285.60,275.20 282.60,269.80" fill="#b5474a" stroke="#111" stroke-width="0.75" stroke-linejoin="miter"/>
<polygon points="279.60,278.40 285.60,278.40 282.60,273.00" fill="#b5474a" stroke="#111" stroke-width="0.75" stroke-linejoin="miter"/>
<polygon points="279.60,287.90 285.60,287.90 282.60,282.50" fill="#b5474a" stroke="#111" stroke-width="0.75" stroke-linejoin="miter"/>
<polygon points="288.30,216.50 291.50,219.70 288.30,222.90 285.10,219.70" fill="#b5474a" stroke="#111" stroke-width="0.75"/>
<polygon points="290.70,219.80 293.90,223.00 290.70,226.20 287.50,223.00" fill="#b5474a" stroke="#111" stroke-width="0.75"/>
<polygon points="288.30,224.70 291.50,227.90 288.30,231.10 285.10,227.90" fill="#b5474a" stroke="#111" stroke-width="0.75"/>
<polygon points="289.90,227.10 293.10,230.30 289.90,233.50 286.70,230.30" fill="#b5474a" stroke="#111" stroke-width="0.75"/>
<polygon points="289.10,229.50 292.30,232.70 289.10,235.90 285.90,232.70" fill="#b5474a" stroke="#111" stroke-width="0.75"/>
<polygon points="289.10,239.30 292.30,242.50 289.10,245.70 285.90,242.50" fill="#b5474a" stroke="#111" stroke-width="0.75"/>
<polygon points="290.70,240.80 293.90,244.00 290.70,247.20 287.50,244.00" fill="#b5474a" stroke="#111" stroke-width="0.75"/>
<polygon points="288.30,241.70 291.50,244.90 288.30,248.10 285.10,244.90" fill="#b5474a" stroke="#111" stroke-width="0.75"/>
<polygon points="288.30,248.20 291.50,251.40 288.30,254.60 285.10,251.40" fill="#b5474a" stroke="#111" stroke-width="0.75"/>
<polygon points="289.90,252.30 293.10,255.50 289.90,258.70 286.70,255.50" fill="#b5474a" stroke="#111" stroke-width="0.75"/>
<polygon points="289.90,270.10 293.10,273.30 289.90,276.50 286.70,273.30" fill="#b5474a" stroke="#111" stroke-width="0.75"/>
<circle cx="298.0" cy="237.6" r="2.8" fill="#dd8a17" stroke="#111" stroke-width="0.75"/>
<circle cx="298.0" cy="244.9" r="2.8" fill="#dd8a17" stroke="#111" stroke-width="0.75"/>
<circle cx="298.0" cy="249.0" r="2.8" fill="#dd8a17" stroke="#111" stroke-width="0.75"/>
<circle cx="298.0" cy="254.6" r="2.8" fill="#dd8a17" stroke="#111" stroke-width="0.75"/>
<polygon points="302.00,217.60 308.00,217.60 305.00,212.20" fill="#dd8a17" stroke="#111" stroke-width="0.75" stroke-linejoin="miter"/>
<polygon points="302.00,228.90 308.00,228.90 305.00,223.50" fill="#dd8a17" stroke="#111" stroke-width="0.75" stroke-linejoin="miter"/>
<polygon points="302.00,235.40 308.00,235.40 305.00,230.00" fill="#dd8a17" stroke="#111" stroke-width="0.75" stroke-linejoin="miter"/>
<polygon points="302.00,244.40 308.00,244.40 305.00,239.00" fill="#dd8a17" stroke="#111" stroke-width="0.75" stroke-linejoin="miter"/>
<polygon points="302.00,259.70 308.00,259.70 305.00,254.30" fill="#dd8a17" stroke="#111" stroke-width="0.75" stroke-linejoin="miter"/>
<polygon points="302.00,270.30 308.00,270.30 305.00,264.90" fill="#dd8a17" stroke="#111" stroke-width="0.75" stroke-linejoin="miter"/>
<polygon points="302.00,275.20 308.00,275.20 305.00,269.80" fill="#dd8a17" stroke="#111" stroke-width="0.75" stroke-linejoin="miter"/>
<polygon points="311.00,222.20 314.20,225.40 311.00,228.60 307.80,225.40" fill="#dd8a17" stroke="#111" stroke-width="0.75"/>
<polygon points="312.00,225.50 315.20,228.70 312.00,231.90 308.80,228.70" fill="#dd8a17" stroke="#111" stroke-width="0.75"/>
<polygon points="311.00,233.60 314.20,236.80 311.00,240.00 307.80,236.80" fill="#dd8a17" stroke="#111" stroke-width="0.75"/>
<polygon points="312.00,236.80 315.20,240.00 312.00,243.20 308.80,240.00" fill="#dd8a17" stroke="#111" stroke-width="0.75"/>
<polygon points="311.00,240.80 314.20,244.00 311.00,247.20 307.80,244.00" fill="#dd8a17" stroke="#111" stroke-width="0.75"/>
<polygon points="311.50,244.90 314.70,248.10 311.50,251.30 308.30,248.10" fill="#dd8a17" stroke="#111" stroke-width="0.75"/>
<polygon points="311.00,248.20 314.20,251.40 311.00,254.60 307.80,251.40" fill="#dd8a17" stroke="#111" stroke-width="0.75"/>
<polygon points="311.50,253.10 314.70,256.30 311.50,259.50 308.30,256.30" fill="#dd8a17" stroke="#111" stroke-width="0.75"/>
<polygon points="311.00,256.30 314.20,259.50 311.00,262.70 307.80,259.50" fill="#dd8a17" stroke="#111" stroke-width="0.75"/>
<polygon points="311.00,261.20 314.20,264.40 311.00,267.60 307.80,264.40" fill="#dd8a17" stroke="#111" stroke-width="0.75"/>
<circle cx="319.9" cy="277.4" r="2.8" fill="#f2b04e" stroke="#111" stroke-width="0.75"/>
<circle cx="319.9" cy="279.3" r="2.8" fill="#f2b04e" stroke="#111" stroke-width="0.75"/>
<circle cx="319.9" cy="282.3" r="2.8" fill="#f2b04e" stroke="#111" stroke-width="0.75"/>
<circle cx="319.9" cy="285.0" r="2.8" fill="#f2b04e" stroke="#111" stroke-width="0.75"/>
<polygon points="323.80,257.00 329.80,257.00 326.80,251.60" fill="#f2b04e" stroke="#111" stroke-width="0.75" stroke-linejoin="miter"/>
<polygon points="324.00,285.00 330.00,285.00 327.00,279.60" fill="#f2b04e" stroke="#111" stroke-width="0.75" stroke-linejoin="miter"/>
<polygon points="323.00,287.90 329.00,287.90 326.00,282.50" fill="#f2b04e" stroke="#111" stroke-width="0.75" stroke-linejoin="miter"/>
<polygon points="333.30,261.50 336.50,264.70 333.30,267.90 330.10,264.70" fill="#f2b04e" stroke="#111" stroke-width="0.75"/>
<polygon points="332.00,274.80 335.20,278.00 332.00,281.20 328.80,278.00" fill="#f2b04e" stroke="#111" stroke-width="0.75"/>
<polygon points="334.50,277.80 337.70,281.00 334.50,284.20 331.30,281.00" fill="#f2b04e" stroke="#111" stroke-width="0.75"/>
<polygon points="332.70,280.90 335.90,284.10 332.70,287.30 329.50,284.10" fill="#f2b04e" stroke="#111" stroke-width="0.75"/>
<polygon points="333.90,282.40 337.10,285.60 333.90,288.80 330.70,285.60" fill="#f2b04e" stroke="#111" stroke-width="0.75"/>
<circle cx="342.4" cy="271.4" r="2.8" fill="#f6dd98" stroke="#111" stroke-width="0.75"/>
<circle cx="342.4" cy="274.4" r="2.8" fill="#f6dd98" stroke="#111" stroke-width="0.75"/>
<circle cx="342.4" cy="276.8" r="2.8" fill="#f6dd98" stroke="#111" stroke-width="0.75"/>
<circle cx="342.4" cy="279.9" r="2.8" fill="#f6dd98" stroke="#111" stroke-width="0.75"/>
<polygon points="345.50,254.00 351.50,254.00 348.50,248.60" fill="#f6dd98" stroke="#111" stroke-width="0.75" stroke-linejoin="miter"/>
<polygon points="345.50,268.60 351.50,268.60 348.50,263.20" fill="#f6dd98" stroke="#111" stroke-width="0.75" stroke-linejoin="miter"/>
<polygon points="345.50,275.30 351.50,275.30 348.50,269.90" fill="#f6dd98" stroke="#111" stroke-width="0.75" stroke-linejoin="miter"/>
<polygon points="345.50,278.90 351.50,278.90 348.50,273.50" fill="#f6dd98" stroke="#111" stroke-width="0.75" stroke-linejoin="miter"/>
<polygon points="345.50,287.90 351.50,287.90 348.50,282.50" fill="#f6dd98" stroke="#111" stroke-width="0.75" stroke-linejoin="miter"/>
<polygon points="355.40,240.20 358.60,243.40 355.40,246.60 352.20,243.40" fill="#f6dd98" stroke="#111" stroke-width="0.75"/>
<polygon points="355.40,248.10 358.60,251.30 355.40,254.50 352.20,251.30" fill="#f6dd98" stroke="#111" stroke-width="0.75"/>
<polygon points="356.00,251.10 359.20,254.30 356.00,257.50 352.80,254.30" fill="#f6dd98" stroke="#111" stroke-width="0.75"/>
<polygon points="355.40,259.00 358.60,262.20 355.40,265.40 352.20,262.20" fill="#f6dd98" stroke="#111" stroke-width="0.75"/>
<polygon points="356.00,261.50 359.20,264.70 356.00,267.90 352.80,264.70" fill="#f6dd98" stroke="#111" stroke-width="0.75"/>
<polygon points="355.40,268.20 358.60,271.40 355.40,274.60 352.20,271.40" fill="#f6dd98" stroke="#111" stroke-width="0.75"/>
<polygon points="356.00,270.60 359.20,273.80 356.00,277.00 352.80,273.80" fill="#f6dd98" stroke="#111" stroke-width="0.75"/>
<polygon points="355.40,274.80 358.60,278.00 355.40,281.20 352.20,278.00" fill="#f6dd98" stroke="#111" stroke-width="0.75"/>
<polygon points="356.00,276.70 359.20,279.90 356.00,283.10 352.80,279.90" fill="#f6dd98" stroke="#111" stroke-width="0.75"/>
<polygon points="355.40,280.30 358.60,283.50 355.40,286.70 352.20,283.50" fill="#f6dd98" stroke="#111" stroke-width="0.75"/>
<polygon points="355.40,282.40 358.60,285.60 355.40,288.80 352.20,285.60" fill="#f6dd98" stroke="#111" stroke-width="0.75"/>
<circle cx="363.5" cy="285.0" r="2.8" fill="#f2cf5a" stroke="#111" stroke-width="0.75"/>
<circle cx="365.3" cy="285.0" r="2.8" fill="#f2cf5a" stroke="#111" stroke-width="0.75"/>
<polygon points="368.40,287.90 374.40,287.90 371.40,282.50" fill="#f2cf5a" stroke="#111" stroke-width="0.75" stroke-linejoin="miter"/>
<polygon points="377.50,270.60 380.70,273.80 377.50,277.00 374.30,273.80" fill="#f2cf5a" stroke="#111" stroke-width="0.75"/>
<polygon points="377.50,273.00 380.70,276.20 377.50,279.40 374.30,276.20" fill="#f2cf5a" stroke="#111" stroke-width="0.75"/>
<polygon points="377.50,275.50 380.70,278.70 377.50,281.90 374.30,278.70" fill="#f2cf5a" stroke="#111" stroke-width="0.75"/>
<polygon points="377.50,277.90 380.70,281.10 377.50,284.30 374.30,281.10" fill="#f2cf5a" stroke="#111" stroke-width="0.75"/>
<polygon points="377.50,280.30 380.70,283.50 377.50,286.70 374.30,283.50" fill="#f2cf5a" stroke="#111" stroke-width="0.75"/>
<polygon points="377.50,282.40 380.70,285.60 377.50,288.80 374.30,285.60" fill="#f2cf5a" stroke="#111" stroke-width="0.75"/>
<circle cx="386.3" cy="242.8" r="2.8" fill="#d6dfb2" stroke="#111" stroke-width="0.75"/>
<circle cx="386.3" cy="255.5" r="2.8" fill="#d6dfb2" stroke="#111" stroke-width="0.75"/>
<circle cx="386.3" cy="267.7" r="2.8" fill="#d6dfb2" stroke="#111" stroke-width="0.75"/>
<circle cx="386.3" cy="275.6" r="2.8" fill="#d6dfb2" stroke="#111" stroke-width="0.75"/>
<polygon points="389.40,260.10 395.40,260.10 392.40,254.70" fill="#d6dfb2" stroke="#111" stroke-width="0.75" stroke-linejoin="miter"/>
<polygon points="389.40,268.60 395.40,268.60 392.40,263.20" fill="#d6dfb2" stroke="#111" stroke-width="0.75" stroke-linejoin="miter"/>
<polygon points="389.40,274.10 395.40,274.10 392.40,268.70" fill="#d6dfb2" stroke="#111" stroke-width="0.75" stroke-linejoin="miter"/>
<polygon points="389.40,276.50 395.40,276.50 392.40,271.10" fill="#d6dfb2" stroke="#111" stroke-width="0.75" stroke-linejoin="miter"/>
<polygon points="389.40,287.90 395.40,287.90 392.40,282.50" fill="#d6dfb2" stroke="#111" stroke-width="0.75" stroke-linejoin="miter"/>
<polygon points="400.00,251.10 403.20,254.30 400.00,257.50 396.80,254.30" fill="#d6dfb2" stroke="#111" stroke-width="0.75"/>
<polygon points="401.00,253.00 404.20,256.20 401.00,259.40 397.80,256.20" fill="#d6dfb2" stroke="#111" stroke-width="0.75"/>
<polygon points="400.00,261.50 403.20,264.70 400.00,267.90 396.80,264.70" fill="#d6dfb2" stroke="#111" stroke-width="0.75"/>
<polygon points="401.00,265.70 404.20,268.90 401.00,272.10 397.80,268.90" fill="#d6dfb2" stroke="#111" stroke-width="0.75"/>
<polygon points="400.00,268.20 403.20,271.40 400.00,274.60 396.80,271.40" fill="#d6dfb2" stroke="#111" stroke-width="0.75"/>
<polygon points="401.00,271.20 404.20,274.40 401.00,277.60 397.80,274.40" fill="#d6dfb2" stroke="#111" stroke-width="0.75"/>
<polygon points="400.00,275.50 403.20,278.70 400.00,281.90 396.80,278.70" fill="#d6dfb2" stroke="#111" stroke-width="0.75"/>
<polygon points="400.00,282.40 403.20,285.60 400.00,288.80 396.80,285.60" fill="#d6dfb2" stroke="#111" stroke-width="0.75"/>
<circle cx="407.9" cy="285.0" r="2.8" fill="#92c268" stroke="#111" stroke-width="0.75"/>
<polygon points="411.60,284.40 417.60,284.40 414.60,279.00" fill="#92c268" stroke="#111" stroke-width="0.75" stroke-linejoin="miter"/>
<polygon points="411.60,287.90 417.60,287.90 414.60,282.50" fill="#92c268" stroke="#111" stroke-width="0.75" stroke-linejoin="miter"/>
<polygon points="421.90,274.80 425.10,278.00 421.90,281.20 418.70,278.00" fill="#92c268" stroke="#111" stroke-width="0.75"/>
<polygon points="423.00,276.70 426.20,279.90 423.00,283.10 419.80,279.90" fill="#92c268" stroke="#111" stroke-width="0.75"/>
<polygon points="421.90,279.10 425.10,282.30 421.90,285.50 418.70,282.30" fill="#92c268" stroke="#111" stroke-width="0.75"/>
<polygon points="421.90,282.40 425.10,285.60 421.90,288.80 418.70,285.60" fill="#92c268" stroke="#111" stroke-width="0.75"/>
<circle cx="429.2" cy="211.1" r="2.8" fill="#a0c4ea" stroke="#111" stroke-width="0.75"/>
<circle cx="429.9" cy="216.1" r="2.8" fill="#a0c4ea" stroke="#111" stroke-width="0.75"/>
<circle cx="429.9" cy="225.3" r="2.8" fill="#a0c4ea" stroke="#111" stroke-width="0.75"/>
<polygon points="433.70,200.40 439.70,200.40 436.70,195.00" fill="#a0c4ea" stroke="#111" stroke-width="0.75" stroke-linejoin="miter"/>
<polygon points="433.70,205.30 439.70,205.30 436.70,199.90" fill="#a0c4ea" stroke="#111" stroke-width="0.75" stroke-linejoin="miter"/>
<polygon points="433.70,210.30 439.70,210.30 436.70,204.90" fill="#a0c4ea" stroke="#111" stroke-width="0.75" stroke-linejoin="miter"/>
<polygon points="433.70,222.30 439.70,222.30 436.70,216.90" fill="#a0c4ea" stroke="#111" stroke-width="0.75" stroke-linejoin="miter"/>
<polygon points="433.70,229.40 439.70,229.40 436.70,224.00" fill="#a0c4ea" stroke="#111" stroke-width="0.75" stroke-linejoin="miter"/>
<polygon points="433.70,234.40 439.70,234.40 436.70,229.00" fill="#a0c4ea" stroke="#111" stroke-width="0.75" stroke-linejoin="miter"/>
<polygon points="434.10,235.10 440.10,235.10 437.10,229.70" fill="#a0c4ea" stroke="#111" stroke-width="0.75" stroke-linejoin="miter"/>
<polygon points="433.50,247.90 439.50,247.90 436.50,242.50" fill="#a0c4ea" stroke="#111" stroke-width="0.75" stroke-linejoin="miter"/>
<polygon points="443.80,209.40 447.00,212.60 443.80,215.80 440.60,212.60" fill="#a0c4ea" stroke="#111" stroke-width="0.75"/>
<polygon points="443.80,221.40 447.00,224.60 443.80,227.80 440.60,224.60" fill="#a0c4ea" stroke="#111" stroke-width="0.75"/>
<polygon points="443.80,225.00 447.00,228.20 443.80,231.40 440.60,228.20" fill="#a0c4ea" stroke="#111" stroke-width="0.75"/>
<polygon points="443.80,229.20 447.00,232.40 443.80,235.60 440.60,232.40" fill="#a0c4ea" stroke="#111" stroke-width="0.75"/>
<polygon points="443.20,242.60 446.40,245.80 443.20,249.00 440.00,245.80" fill="#a0c4ea" stroke="#111" stroke-width="0.75"/>
<polygon points="443.20,248.10 446.40,251.30 443.20,254.50 440.00,251.30" fill="#a0c4ea" stroke="#111" stroke-width="0.75"/>
<polygon points="443.20,251.70 446.40,254.90 443.20,258.10 440.00,254.90" fill="#a0c4ea" stroke="#111" stroke-width="0.75"/>
<polygon points="443.20,254.80 446.40,258.00 443.20,261.20 440.00,258.00" fill="#a0c4ea" stroke="#111" stroke-width="0.75"/>
<polygon points="443.20,259.00 446.40,262.20 443.20,265.40 440.00,262.20" fill="#a0c4ea" stroke="#111" stroke-width="0.75"/>
<polygon points="443.20,262.10 446.40,265.30 443.20,268.50 440.00,265.30" fill="#a0c4ea" stroke="#111" stroke-width="0.75"/>
<line x1="384.2" y1="261.9" x2="388.4" y2="261.9" stroke="#555" stroke-width="1.0"/>
<line x1="434.9" y1="213" x2="439.1" y2="213" stroke="#777" stroke-width="1.0"/>
<text x="8.5" y="347" font-size="11" text-anchor="start" font-weight="bold" fill="#000" class="L">G</text>
<line x1="40.5" y1="356.8" x2="40.5" y2="455.6" stroke="#333" stroke-width="1.3"/>
<line x1="40.5" y1="455" x2="134.6" y2="455" stroke="#444" stroke-width="1.5"/>
<line x1="40.6" y1="455" x2="40.6" y2="457.8" stroke="#2b2b2b" stroke-width="1.0"/>
<text x="40.6" y="468.6" font-size="8.6" text-anchor="middle" font-weight="normal" fill="#231f20">0</text>
<line x1="79.9" y1="455" x2="79.9" y2="457.8" stroke="#2b2b2b" stroke-width="1.0"/>
<text x="79.9" y="468.6" font-size="8.6" text-anchor="middle" font-weight="normal" fill="#231f20">500</text>
<line x1="119.1" y1="455" x2="119.1" y2="457.8" stroke="#2b2b2b" stroke-width="1.0"/>
<text x="119.1" y="468.6" font-size="8.6" text-anchor="middle" font-weight="normal" fill="#231f20">1000</text>
<text x="59" y="485.2" font-size="9.8" text-anchor="start" font-weight="normal" fill="#231f20" textLength="57.7" lengthAdjust="spacingAndGlyphs">CD8 T-cells/ mm<tspan font-size="6.5" dy="-3.8">2</tspan></text>
<rect x="40.70" y="367.3" width="2.10" height="19.30000000000001" fill="#b5474a" stroke="#1a1a1a" stroke-width="0.7"/>
<rect x="42.80" y="367.3" width="10.60" height="19.30000000000001" fill="#dd8a17" stroke="#1a1a1a" stroke-width="0.7"/>
<rect x="53.40" y="367.3" width="1.50" height="19.30000000000001" fill="#f0b050" stroke="#1a1a1a" stroke-width="0.7"/>
<rect x="54.90" y="367.3" width="2.10" height="19.30000000000001" fill="#f6dd98" stroke="#1a1a1a" stroke-width="0.7"/>
<rect x="57.00" y="367.3" width="5.40" height="19.30000000000001" fill="#cfd5ad" stroke="#1a1a1a" stroke-width="0.7"/>
<rect x="62.40" y="367.3" width="21.90" height="19.30000000000001" fill="#a0c4ea" stroke="#1a1a1a" stroke-width="0.7"/>
<rect x="40.70" y="396.6" width="3.90" height="19.69999999999999" fill="#b5474a" stroke="#1a1a1a" stroke-width="0.7"/>
<rect x="44.60" y="396.6" width="7.80" height="19.69999999999999" fill="#dd8a17" stroke="#1a1a1a" stroke-width="0.7"/>
<rect x="52.40" y="396.6" width="1.50" height="19.69999999999999" fill="#f6dd98" stroke="#1a1a1a" stroke-width="0.7"/>
<rect x="53.90" y="396.6" width="2.40" height="19.69999999999999" fill="#cfd5ad" stroke="#1a1a1a" stroke-width="0.7"/>
<rect x="56.30" y="396.6" width="13.20" height="19.69999999999999" fill="#a0c4ea" stroke="#1a1a1a" stroke-width="0.7"/>
<rect x="40.70" y="426.3" width="28.90" height="19.30000000000001" fill="#b5474a" stroke="#1a1a1a" stroke-width="0.7"/>
<rect x="69.60" y="426.3" width="25.70" height="19.30000000000001" fill="#dd8a17" stroke="#1a1a1a" stroke-width="0.7"/>
<rect x="95.30" y="426.3" width="0.60" height="19.30000000000001" fill="#f0b050" stroke="#1a1a1a" stroke-width="0.7"/>
<rect x="95.90" y="426.3" width="2.30" height="19.30000000000001" fill="#f6dd98" stroke="#1a1a1a" stroke-width="0.7"/>
<rect x="98.20" y="426.3" width="8.30" height="19.30000000000001" fill="#cfd5ad" stroke="#1a1a1a" stroke-width="0.7"/>
<rect x="106.50" y="426.3" width="16.00" height="19.30000000000001" fill="#a0c4ea" stroke="#1a1a1a" stroke-width="0.7"/>
<text x="37.8" y="378.8" font-size="8.2" text-anchor="end" font-weight="normal" fill="#231f20">Control</text>
<text x="37.8" y="409.3" font-size="8.2" text-anchor="end" font-weight="normal" fill="#231f20">No</text>
<text x="37.8" y="438.5" font-size="8.2" text-anchor="end" font-weight="normal" fill="#231f20">Yes</text>
<line x1="21.7" y1="394.2" x2="21.7" y2="451.5" stroke="#444" stroke-width="1.1"/>
<text transform="translate(16.8,423.2) rotate(-90)" font-size="8.2" text-anchor="middle" font-weight="normal" fill="#231f20" textLength="68" lengthAdjust="spacingAndGlyphs">Histological GvHD</text>
<path d="M126.1,412.7 H130.7 V430.2 H126.1" fill="none" stroke="#c0464c" stroke-width="0.9"/>
<path d="M133.2,412.7 H136.8 V430.2 H133.2" fill="none" stroke="#eba73a" stroke-width="0.9"/>
<circle cx="133.5" cy="418.8" r="1.15" fill="#222" stroke="none" stroke-width="0"/>
<circle cx="133.5" cy="422.8" r="1.15" fill="#222" stroke="none" stroke-width="0"/>
<circle cx="141.3" cy="420.8" r="1.15" fill="#222" stroke="none" stroke-width="0"/>
<text x="159.8" y="347.6" font-size="11" text-anchor="start" font-weight="bold" fill="#000" class="L">H</text>
<text x="189.5" y="364.4" font-size="8.2" text-anchor="start" font-weight="normal" fill="#231f20" textLength="68.1" lengthAdjust="spacingAndGlyphs">Histological GvHD</text>
<line x1="184" y1="369.1" x2="263.1" y2="369.1" stroke="#555" stroke-width="1.2"/>
<text x="184" y="380" font-size="8.2" text-anchor="start" font-weight="normal" fill="#231f20" textLength="11.6" lengthAdjust="spacingAndGlyphs">No</text>
<text x="250.3" y="380" font-size="8.2" text-anchor="start" font-weight="normal" fill="#231f20" textLength="12.3" lengthAdjust="spacingAndGlyphs">Yes</text>
<path d="M187.60,426.50 L187.60,400.90 A25.6,25.6 0 0 1 209.50,413.24 Z" fill="#b5474a" stroke="#1a1a1a" stroke-width="0.8" stroke-linejoin="round"/>
<path d="M187.60,426.50 L209.50,413.24 A25.6,25.6 0 0 1 201.32,448.11 Z" fill="#dd8a17" stroke="#1a1a1a" stroke-width="0.8" stroke-linejoin="round"/>
<path d="M187.60,426.50 L201.32,448.11 A25.6,25.6 0 0 1 195.93,450.71 Z" fill="#f0b050" stroke="#1a1a1a" stroke-width="0.8" stroke-linejoin="round"/>
<path d="M187.60,426.50 L195.93,450.71 A25.6,25.6 0 0 1 195.08,450.98 Z" fill="#f6dd98" stroke="#1a1a1a" stroke-width="0.8" stroke-linejoin="round"/>
<path d="M187.60,426.50 L195.08,450.98 A25.6,25.6 0 0 1 164.29,437.08 Z" fill="#cfd5ad" stroke="#1a1a1a" stroke-width="0.8" stroke-linejoin="round"/>
<path d="M187.60,426.50 L164.29,437.08 A25.6,25.6 0 0 1 187.60,400.90 Z" fill="#a0c4ea" stroke="#1a1a1a" stroke-width="0.8" stroke-linejoin="round"/>
<circle cx="187.6" cy="426.5" r="25.6" fill="none" stroke="#1a1a1a" stroke-width="1.2"/>
<path d="M187.60,398.00 A28.5,28.5 0 0 1 195.93,453.75" fill="none" stroke="#6aa8e4" stroke-width="1.1"/>
<path d="M187.60,395.40 A31.1,31.1 0 0 1 204.26,452.76" fill="none" stroke="#cfcfcf" stroke-width="1.1"/>
<path d="M196.69,456.24 A31.1,31.1 0 0 1 159.28,439.35" fill="none" stroke="#cfcfcf" stroke-width="1.1"/>
<path d="M187.60,392.50 A34.0,34.0 0 0 1 216.68,408.89" fill="none" stroke="#c0304f" stroke-width="1.25"/>
<path d="M205.82,455.21 A34.0,34.0 0 0 1 198.67,458.65" fill="none" stroke="#c0304f" stroke-width="1.25"/>
<path d="M258.30,426.90 L258.30,401.10 A25.8,25.8 0 0 1 272.24,405.19 Z" fill="#b5474a" stroke="#1a1a1a" stroke-width="0.8" stroke-linejoin="round"/>
<path d="M258.30,426.90 L272.24,405.19 A25.8,25.8 0 0 1 281.39,438.41 Z" fill="#dd8a17" stroke="#1a1a1a" stroke-width="0.8" stroke-linejoin="round"/>
<path d="M258.30,426.90 L281.39,438.41 A25.8,25.8 0 0 1 281.08,439.01 Z" fill="#f6dd98" stroke="#1a1a1a" stroke-width="0.8" stroke-linejoin="round"/>
<path d="M258.30,426.90 L281.08,439.01 A25.8,25.8 0 0 1 278.06,443.48 Z" fill="#f6dd98" stroke="#1a1a1a" stroke-width="0.8" stroke-linejoin="round"/>
<path d="M258.30,426.90 L278.06,443.48 A25.8,25.8 0 0 1 254.49,452.42 Z" fill="#cfd5ad" stroke="#1a1a1a" stroke-width="0.8" stroke-linejoin="round"/>
<path d="M258.30,426.90 L254.49,452.42 A25.8,25.8 0 0 1 258.30,401.10 Z" fill="#a0c4ea" stroke="#1a1a1a" stroke-width="0.8" stroke-linejoin="round"/>
<circle cx="258.3" cy="426.9" r="25.8" fill="none" stroke="#1a1a1a" stroke-width="1.2"/>
<path d="M258.30,398.20 A28.7,28.7 0 0 1 280.29,445.35" fill="none" stroke="#6aa8e4" stroke-width="1.1"/>
<path d="M258.30,395.60 A31.3,31.3 0 0 1 286.31,440.87" fill="none" stroke="#cfcfcf" stroke-width="1.1"/>
<path d="M282.28,447.02 A31.3,31.3 0 0 1 253.67,457.86" fill="none" stroke="#cfcfcf" stroke-width="1.1"/>
<path d="M258.30,392.70 A34.2,34.2 0 0 1 276.78,398.12" fill="none" stroke="#c0304f" stroke-width="1.25"/>
<text x="308.3" y="348.3" font-size="11" text-anchor="start" font-weight="bold" fill="#000" class="L">I</text>
<polygon points="352.60,357.85 358.60,357.85 355.60,362.95" fill="#dcdcdc" stroke="#333" stroke-width="0.9" stroke-linejoin="miter"/>
<polygon points="352.60,369.05 358.60,369.05 355.60,374.75" fill="#c0062c" stroke="#222" stroke-width="0.7" stroke-linejoin="miter"/>
<text x="362" y="363" font-size="8.2" text-anchor="start" font-weight="normal" fill="#231f20" textLength="80" lengthAdjust="spacingAndGlyphs">RARα<tspan font-size="6.1" dy="-3.4">hi</tspan><tspan dy="3.4"> FOXP3</tspan><tspan font-size="6.1" dy="-3.4">+</tspan><tspan dy="3.4"> CD4</tspan><tspan font-size="6.1" dy="-3.4">+</tspan></text>
<text x="362" y="373.9" font-size="8.2" text-anchor="start" font-weight="normal" fill="#231f20" textLength="73.4" lengthAdjust="spacingAndGlyphs">RARα<tspan font-size="6.1" dy="-3.4">hi</tspan><tspan dy="3.4"> T-bet</tspan><tspan font-size="6.1" dy="-3.4">+</tspan><tspan dy="3.4"> CD8</tspan><tspan font-size="6.1" dy="-3.4">+</tspan></text>
<line x1="349.8" y1="377.6" x2="349.8" y2="456.0" stroke="#333" stroke-width="1.3"/>
<line x1="346.8" y1="455.5" x2="430.5" y2="455.5" stroke="#444" stroke-width="1.5"/>
<line x1="346.8" y1="455.5" x2="349.8" y2="455.5" stroke="#2b2b2b" stroke-width="1.0"/>
<text x="344.2" y="458.4" font-size="8.4" text-anchor="end" font-weight="normal" fill="#231f20">0</text>
<line x1="346.8" y1="433.135" x2="349.8" y2="433.135" stroke="#2b2b2b" stroke-width="1.0"/>
<text x="344.2" y="436.03499999999997" font-size="8.4" text-anchor="end" font-weight="normal" fill="#231f20">500</text>
<line x1="346.8" y1="410.77" x2="349.8" y2="410.77" stroke="#2b2b2b" stroke-width="1.0"/>
<text x="344.2" y="413.66999999999996" font-size="8.4" text-anchor="end" font-weight="normal" fill="#231f20">1000</text>
<line x1="346.8" y1="388.405" x2="349.8" y2="388.405" stroke="#2b2b2b" stroke-width="1.0"/>
<text x="344.2" y="391.30499999999995" font-size="8.4" text-anchor="end" font-weight="normal" fill="#231f20">1500</text>
<text transform="translate(318.2,416.2) rotate(-90)" font-size="8.6" text-anchor="middle" font-weight="normal" fill="#231f20" textLength="36.5" lengthAdjust="spacingAndGlyphs">Cells/mm<tspan font-size="6" dy="-3.4">2</tspan></text>
<text x="346.9" y="466.8" font-size="8.2" text-anchor="start" font-weight="normal" fill="#231f20" textLength="27.4" lengthAdjust="spacingAndGlyphs">Control</text>
<text x="377.7" y="466.8" font-size="8.2" text-anchor="start" font-weight="normal" fill="#231f20" textLength="11.1" lengthAdjust="spacingAndGlyphs">No</text>
<text x="394" y="466.8" font-size="8.2" text-anchor="start" font-weight="normal" fill="#231f20" textLength="12.1" lengthAdjust="spacingAndGlyphs">Yes</text>
<text x="412.7" y="466.8" font-size="8.2" text-anchor="start" font-weight="normal" fill="#231f20" textLength="12.4" lengthAdjust="spacingAndGlyphs">Yes</text>
<line x1="375.1" y1="471.8" x2="426.4" y2="471.8" stroke="#444" stroke-width="1.3"/>
<text x="369.5" y="483.4" font-size="8.2" text-anchor="start" font-weight="normal" fill="#231f20" textLength="67.9" lengthAdjust="spacingAndGlyphs">Histological GvHD</text>
<line x1="361.2" y1="422.8" x2="398.4" y2="422.8" stroke="#3a3a3a" stroke-width="0.9"/>
<line x1="361.2" y1="419.6" x2="361.2" y2="426.0" stroke="#3a3a3a" stroke-width="0.9"/>
<line x1="398.4" y1="419.6" x2="398.4" y2="426.0" stroke="#3a3a3a" stroke-width="0.9"/>
<text x="379.8" y="423.2" font-size="8.5" text-anchor="middle" font-weight="bold" fill="#231f20">*</text>
<line x1="380.9" y1="433.2" x2="399.4" y2="433.2" stroke="#3a3a3a" stroke-width="0.9"/>
<line x1="380.9" y1="430.0" x2="380.9" y2="436.4" stroke="#3a3a3a" stroke-width="0.9"/>
<line x1="399.4" y1="430.0" x2="399.4" y2="436.4" stroke="#3a3a3a" stroke-width="0.9"/>
<text x="390.1" y="435.1" font-size="8.5" text-anchor="middle" font-weight="bold" fill="#231f20">**</text>
<polygon points="355.55,450.64 361.85,450.64 358.70,455.56" fill="#d0d0d0" stroke="#333" stroke-width="0.8" stroke-linejoin="miter"/>
<polygon points="358.35,451.14 364.65,451.14 361.50,456.06" fill="#d0d0d0" stroke="#333" stroke-width="0.8" stroke-linejoin="miter"/>
<polygon points="361.25,450.04 367.55,450.04 364.40,454.96" fill="#d0d0d0" stroke="#333" stroke-width="0.8" stroke-linejoin="miter"/>
<polygon points="363.55,450.64 369.85,450.64 366.70,455.56" fill="#d0d0d0" stroke="#333" stroke-width="0.8" stroke-linejoin="miter"/>
<polygon points="373.35,450.64 379.65,450.64 376.50,455.56" fill="#d0d0d0" stroke="#333" stroke-width="0.8" stroke-linejoin="miter"/>
<polygon points="376.25,451.14 382.55,451.14 379.40,456.06" fill="#d0d0d0" stroke="#333" stroke-width="0.8" stroke-linejoin="miter"/>
<polygon points="379.15,450.64 385.45,450.64 382.30,455.56" fill="#d0d0d0" stroke="#333" stroke-width="0.8" stroke-linejoin="miter"/>
<polygon points="381.45,450.04 387.75,450.04 384.60,454.96" fill="#d0d0d0" stroke="#333" stroke-width="0.8" stroke-linejoin="miter"/>
<polygon points="396.35,439.24 402.65,439.24 399.50,444.16" fill="#d0d0d0" stroke="#333" stroke-width="0.8" stroke-linejoin="miter"/>
<polygon points="393.55,443.84 399.85,443.84 396.70,448.76" fill="#d0d0d0" stroke="#333" stroke-width="0.8" stroke-linejoin="miter"/>
<polygon points="398.35,445.24 404.65,445.24 401.50,450.16" fill="#d0d0d0" stroke="#333" stroke-width="0.8" stroke-linejoin="miter"/>
<polygon points="392.15,447.94 398.45,447.94 395.30,452.86" fill="#d0d0d0" stroke="#333" stroke-width="0.8" stroke-linejoin="miter"/>
<polygon points="399.35,447.94 405.65,447.94 402.50,452.86" fill="#d0d0d0" stroke="#333" stroke-width="0.8" stroke-linejoin="miter"/>
<polygon points="395.05,449.34 401.35,449.34 398.20,454.26" fill="#d0d0d0" stroke="#333" stroke-width="0.8" stroke-linejoin="miter"/>
<polygon points="397.85,449.84 404.15,449.84 401.00,454.76" fill="#d0d0d0" stroke="#333" stroke-width="0.8" stroke-linejoin="miter"/>
<line x1="355.2" y1="453.6" x2="369.6" y2="453.6" stroke="#444" stroke-width="0.9"/>
<line x1="373.6" y1="453.6" x2="386.9" y2="453.6" stroke="#444" stroke-width="0.9"/>
<line x1="391.7" y1="450.3" x2="406.6" y2="450.3" stroke="#444" stroke-width="0.9"/>
<text x="403.5" y="445.3" font-size="6.4" text-anchor="start" font-weight="normal" fill="#231f20" textLength="9.1" lengthAdjust="spacingAndGlyphs">110</text>
<polygon points="414.75,380.91 421.05,380.91 417.90,386.89" fill="#c0062c" stroke="#222" stroke-width="0.7" stroke-linejoin="miter"/>
<polygon points="413.15,392.31 419.45,392.31 416.30,398.29" fill="#c0062c" stroke="#222" stroke-width="0.7" stroke-linejoin="miter"/>
<polygon points="416.05,393.11 422.35,393.11 419.20,399.09" fill="#c0062c" stroke="#222" stroke-width="0.7" stroke-linejoin="miter"/>
<polygon points="417.15,396.11 423.45,396.11 420.30,402.09" fill="#c0062c" stroke="#222" stroke-width="0.7" stroke-linejoin="miter"/>
<polygon points="414.45,411.01 420.75,411.01 417.60,416.99" fill="#c0062c" stroke="#222" stroke-width="0.7" stroke-linejoin="miter"/>
<polygon points="410.65,422.41 416.95,422.41 413.80,428.39" fill="#c0062c" stroke="#222" stroke-width="0.7" stroke-linejoin="miter"/>
<polygon points="413.95,422.71 420.25,422.71 417.10,428.69" fill="#c0062c" stroke="#222" stroke-width="0.7" stroke-linejoin="miter"/>
<polygon points="417.15,422.71 423.45,422.71 420.30,428.69" fill="#c0062c" stroke="#222" stroke-width="0.7" stroke-linejoin="miter"/>
<polygon points="415.55,429.71 421.85,429.71 418.70,435.69" fill="#c0062c" stroke="#222" stroke-width="0.7" stroke-linejoin="miter"/>
<polygon points="412.25,433.01 418.55,433.01 415.40,438.99" fill="#c0062c" stroke="#222" stroke-width="0.7" stroke-linejoin="miter"/>
<polygon points="414.75,444.41 421.05,444.41 417.90,450.39" fill="#c0062c" stroke="#222" stroke-width="0.7" stroke-linejoin="miter"/>
<line x1="410.2" y1="425.6" x2="424.6" y2="425.6" stroke="#444" stroke-width="0.9"/>
<text x="426.5" y="421.9" font-size="6.4" text-anchor="start" font-weight="normal" fill="#231f20" textLength="10.4" lengthAdjust="spacingAndGlyphs">659</text>
</svg>
</body></html>
